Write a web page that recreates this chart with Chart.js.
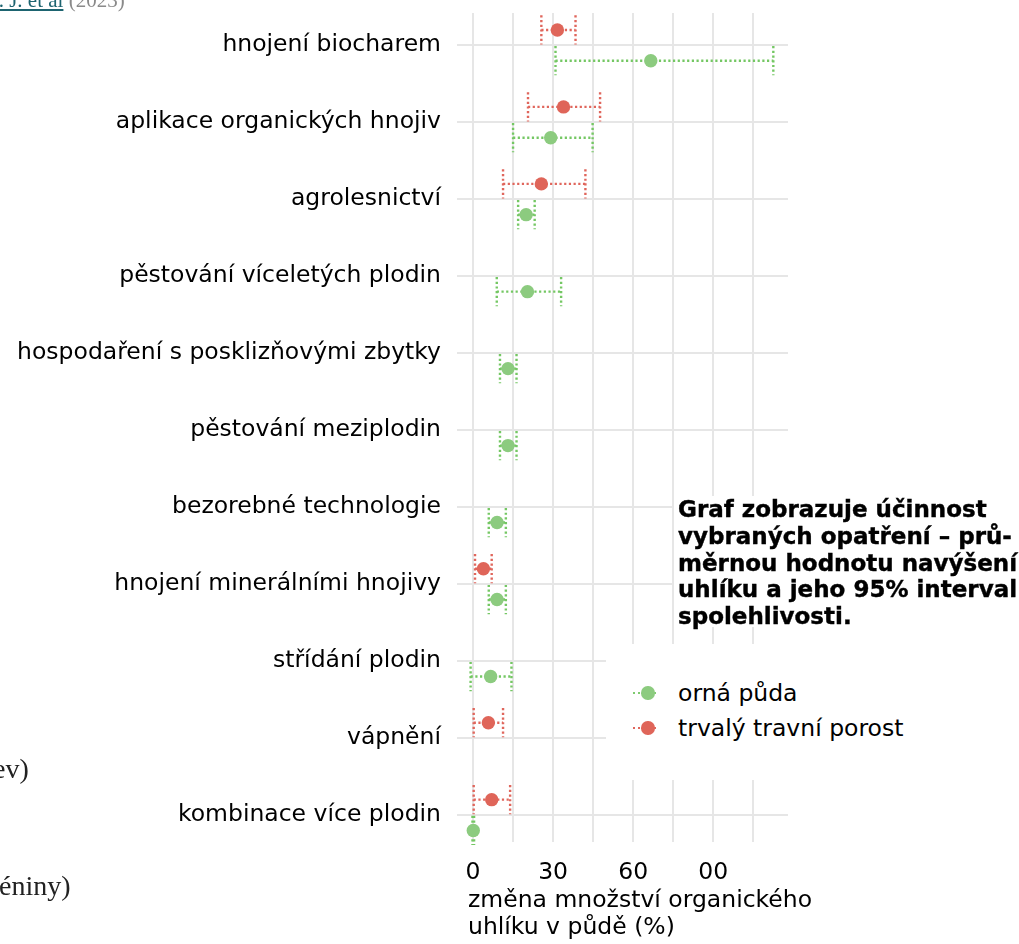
<!DOCTYPE html>
<html>
<head>
<meta charset="utf-8">
<script src="https://cdn.jsdelivr.net/npm/chart.js@4.4.1/dist/chart.umd.min.js"></script>
<style>
html,body{margin:0;padding:0;background:#fff;}
#wrap{position:relative;width:1019px;height:944px;overflow:hidden;background:#fff;}
#c{position:absolute;left:0;top:0;}
.frag{position:absolute;font-family:"Liberation Serif","DejaVu Serif",serif;white-space:nowrap;color:#222;}
.frag a{color:#1d6470;text-decoration:underline;}
.frag .g{color:#8a8a8a;}
#note{position:absolute;left:674px;top:496px;width:345px;height:131px;background:#fff;padding-left:4px;box-sizing:border-box;
  font-family:"DejaVu Sans",sans-serif;font-weight:bold;font-size:23px;line-height:26.8px;color:#000;white-space:nowrap;-webkit-text-stroke:0.4px #000;}
#legbox{position:absolute;left:606px;top:644px;width:413px;height:136px;background:#fff;}
.legline{position:absolute;left:633px;width:23px;height:0;border-top:2px dotted;}
.legdot{position:absolute;width:13.4px;height:13.4px;border-radius:50%;}
.legtxt{position:absolute;left:678px;font-family:"DejaVu Sans",sans-serif;font-size:23.5px;line-height:30px;color:#000;white-space:nowrap;}
#xtitle{position:absolute;left:468px;top:886px;font-family:"DejaVu Sans",sans-serif;font-size:23.5px;line-height:27px;color:#000;white-space:nowrap;}
</style>
</head>
<body>
<div id="wrap">
  <canvas id="c" width="1019" height="944"></canvas>
  <div class="frag" style="left:-13px;top:-12px;font-size:21px;"><a>S. J. et al</a> <span class="g">(2023)</span></div>
  <div class="frag" style="left:-7px;top:753px;font-size:28px;">ev)</div>
  <div class="frag" style="left:-1px;top:870px;font-size:28px;">éniny)</div>
  <div id="note">Graf zobrazuje účinnost<br>vybraných opatření – prů-<br>měrnou hodnotu navýšení<br>uhlíku a jeho 95% interval<br>spolehlivosti.</div>
  <div id="legbox"></div>
  <div class="legline" style="top:692px;border-color:#7fcb6f;"></div>
  <div class="legdot" style="left:641.3px;top:686.3px;background:#8ccb7f;"></div>
  <div class="legtxt" style="top:678px;">orná půda</div>
  <div class="legline" style="top:727px;border-color:#e0665c;"></div>
  <div class="legdot" style="left:641.3px;top:721.3px;background:#df6559;"></div>
  <div class="legtxt" style="top:713px;">trvalý travní porost</div>
  <div id="xtitle">změna množství organického<br>uhlíku v půdě (%)</div>
</div>
<script>
// ---- data ----
const categories = [
  "hnojení biocharem",
  "aplikace organických hnojiv",
  "agrolesnictví",
  "pěstování víceletých plodin",
  "hospodaření s posklizňovými zbytky",
  "pěstování meziplodin",
  "bezorebné technologie",
  "hnojení minerálními hnojivy",
  "střídání plodin",
  "vápnění",
  "kombinace více plodin"
];
// orná půda (arable land)
const ornaMean = [66.6, 29.1, 19.9, 20.4, 13.1, 13.1, 9.0, 9.0, 6.6, null, 0.1];
const ornaLow  = [30.9, 15.0, 16.9,  8.9, 10.1, 10.1, 5.9, 5.9, -0.9, null, -0.2];
const ornaHigh = [112.5, 44.8, 23.1, 33.0, 16.3, 16.3, 12.3, 12.3, 14.4, null, 0.4];
// trvalý travní porost (permanent grassland)
const ttpMean = [31.6, 33.9, 25.6, null, null, null, null, 3.9, null, 5.75, 7.0];
const ttpLow  = [25.6, 20.6, 11.25, null, null, null, null, 0.75, null, 0.25, 0.25];
const ttpHigh = [38.4, 47.6, 42.1, null, null, null, null, 7.0, null, 11.25, 13.9];
// x axis tick labels
const xTickValues = [0, 30, 60, 90];
const xTickLabels = ["0", "30", "60", "00"];

// ---- styling constants ----
const DODGE = 0.2;
const CAP = 0.19;
const GREEN_PT = "#8ccb7f", GREEN_LN = "#74c763";
const RED_PT = "#df6559", RED_LN = "#e0665c";
const FONT = "'DejaVu Sans', sans-serif";

function pts(mean, off){
  const out = [];
  mean.forEach((m, i) => { if (m !== null) out.push({x: m, y: i + off}); });
  return out;
}

const series = [
  {low: ttpLow, high: ttpHigh, off: -DODGE, color: RED_LN},
  {low: ornaLow, high: ornaHigh, off: DODGE, color: GREEN_LN}
];

const errorBars = {
  id: 'errorBars',
  beforeDatasetsDraw(chart){
    const ctx = chart.ctx, x = chart.scales.x, y = chart.scales.y;
    ctx.save();
    ctx.lineWidth = 2.4;
    ctx.setLineDash([2.2, 2.5]);
    series.forEach(s => {
      ctx.strokeStyle = s.color;
      s.low.forEach((lo, i) => {
        if (lo === null) return;
        const hi = s.high[i];
        const yc = y.getPixelForValue(i + s.off);
        const y0 = y.getPixelForValue(i + s.off - CAP);
        const y1 = y.getPixelForValue(i + s.off + CAP);
        const xl = x.getPixelForValue(lo), xh = x.getPixelForValue(hi);
        ctx.beginPath();
        ctx.moveTo(xl, yc); ctx.lineTo(xh, yc);
        ctx.stroke();
        ctx.beginPath();
        ctx.moveTo(xl, y0); ctx.lineTo(xl, y1);
        ctx.moveTo(xh, y0); ctx.lineTo(xh, y1);
        ctx.stroke();
      });
    });
    ctx.restore();
  }
};

new Chart(document.getElementById('c'), {
  type: 'scatter',
  data: {
    datasets: [
      {label: 'trvalý travní porost', data: pts(ttpMean, -DODGE), backgroundColor: RED_PT, borderWidth: 0, pointRadius: 6.7, pointHoverRadius: 6.7},
      {label: 'orná půda', data: pts(ornaMean, DODGE), backgroundColor: GREEN_PT, borderWidth: 0, pointRadius: 6.7, pointHoverRadius: 6.7}
    ]
  },
  options: {
    responsive: false,
    animation: false,
    events: [],
    layout: {padding: {top: 13, right: 231, left: 0, bottom: 0}},
    plugins: {legend: {display: false}, tooltip: {enabled: false}},
    scales: {
      x: {
        type: 'linear', position: 'bottom', min: -6, max: 118,
        border: {display: false},
        grid: {color: '#e6e6e6', lineWidth: 2, drawTicks: false},
        ticks: {
          stepSize: 15, includeBounds: false, autoSkip: false, maxRotation: 0,
          padding: 17, color: '#000', font: {family: FONT, size: 23.5},
          callback: v => { const k = xTickValues.indexOf(v); return k >= 0 ? xTickLabels[k] : ''; }
        },
        afterFit: s => { s.height = 102; s.paddingLeft = 0; s.paddingRight = 0; }
      },
      y: {
        type: 'linear', position: 'left', reverse: true, min: -0.42, max: 10.35,
        border: {display: false},
        grid: {color: '#e6e6e6', lineWidth: 2, drawTicks: false},
        ticks: {
          stepSize: 1, includeBounds: false, autoSkip: false,
          padding: 16, color: '#000', font: {family: FONT, size: 23.5},
          callback: v => (Number.isInteger(v) && categories[v] !== undefined) ? categories[v] : ''
        },
        afterFit: s => { s.width = 457; s.paddingTop = 0; s.paddingBottom = 0; }
      }
    }
  },
  plugins: [errorBars]
});
</script>
</body>
</html>
